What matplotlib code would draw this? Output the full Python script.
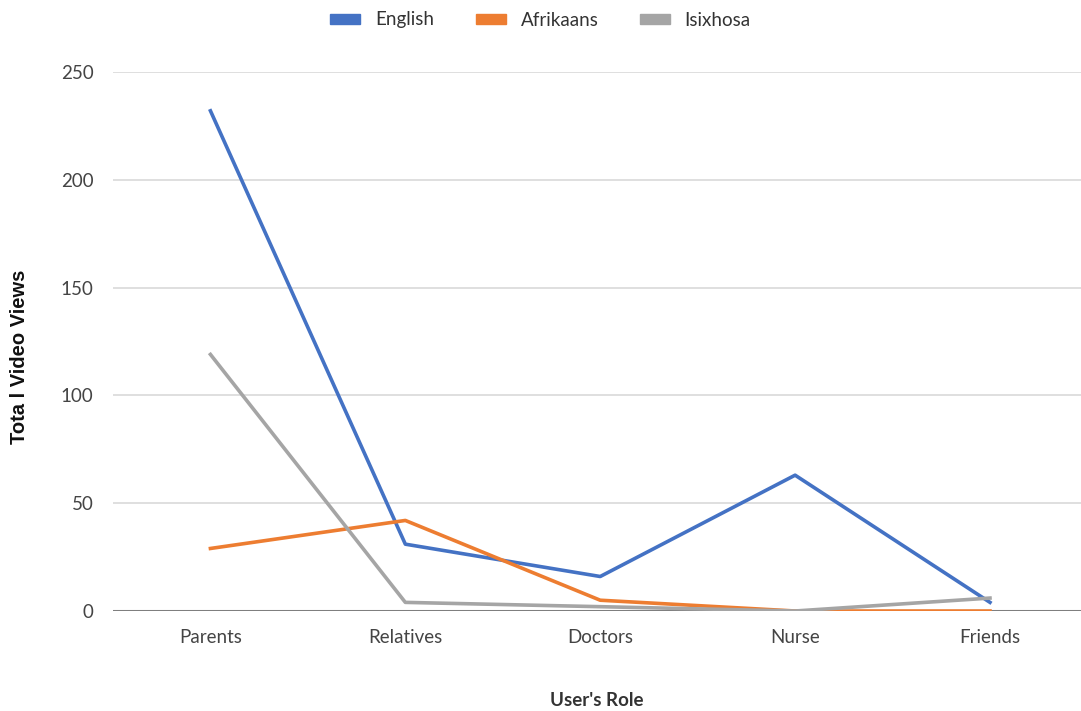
import matplotlib.pyplot as plt
from matplotlib.patches import Patch

roles = ['Parents', 'Relatives', 'Doctors', 'Nurse', 'Friends']
english = [232, 31, 16, 63, 4]
afrikaans = [29, 42, 5, 0, 0]
isixhosa = [119, 4, 2, 0, 6]

colors = {'English': '#4472c4', 'Afrikaans': '#ed7d31', 'Isixhosa': '#a5a5a5'}

fig = plt.figure(figsize=(10.81, 7.11), dpi=100)
ax = fig.add_axes([113 / 1081, 100 / 711, 968 / 1081, 539 / 711])

x = range(len(roles))
ax.plot(x, english, color=colors['English'], lw=2.6, label='English', zorder=3)
ax.plot(x, afrikaans, color=colors['Afrikaans'], lw=2.6, label='Afrikaans', zorder=3)
ax.plot(x, isixhosa, color=colors['Isixhosa'], lw=2.6, label='Isixhosa', zorder=3)

ax.set_xlim(-0.5, 4.467)
ax.set_ylim(0, 250)
ax.set_yticks([0, 50, 100, 150, 200, 250])
ax.set_xticks(list(x))
ax.set_xticklabels(roles)
ax.grid(axis='y', color='#d9d9d9', lw=1.2)
ax.axhline(0, color='#7f7f7f', lw=2.2, zorder=2)
for s in ax.spines.values():
    s.set_visible(False)
ax.tick_params(length=0, labelsize=13.5, labelcolor='#444444')
ax.tick_params(axis='x', pad=13)
ax.tick_params(axis='y', pad=14)
for lab in ax.get_xticklabels() + ax.get_yticklabels():
    lab.set_family('Lato')

fig.text(597 / 1081, 1 - 700 / 711, "User's Role", ha='center', va='center',
         fontsize=13.5, fontweight='bold', family='Lato', color='#333333')
fig.text(20 / 1081, 1 - 357 / 711, 'Tota l Video Views', ha='center', va='center',
         rotation=90, fontsize=14.5, fontweight='bold', family='Liberation Sans', color='#111111')

handles = [Patch(color=colors[k], label=k) for k in colors]
fig.legend(handles=handles, loc='center', bbox_to_anchor=(0.5, 1 - 20 / 711), ncol=3,
           frameon=False, handlelength=1.6, handleheight=0.45, columnspacing=2.2,
           prop={'family': 'Lato', 'size': 13.5}, labelcolor='#333333')

fig.savefig('out.png', dpi=100)
